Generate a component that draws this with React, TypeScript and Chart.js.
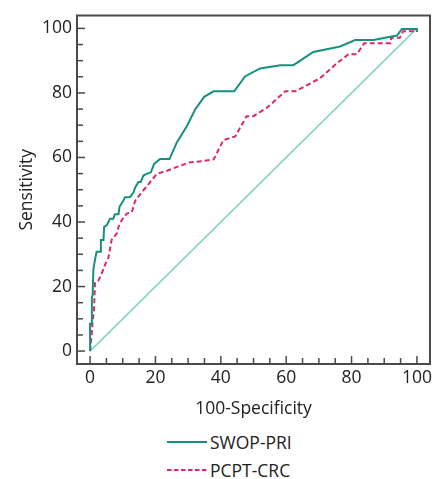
import React, { useEffect, useRef } from "react";
import { Chart, registerables } from "chart.js";

Chart.register(...registerables);

const swopX = [0, 0, 0.5, 0.55, 0.8, 1.0, 1.5, 2.0, 3.2, 3.3, 4.1, 4.3, 5.1, 6.1, 7.1, 7.6, 8.7, 9.0, 10.2, 10.7, 12.2, 13.3, 13.8, 14.8, 15.5, 16.3, 17.3, 18.6, 19.6, 21.4, 24.3, 26.5, 29.6, 32.1, 34.9, 37.8, 44.1, 47.4, 52.0, 58.2, 62.2, 68.3, 76.5, 81.1, 86.7, 93.9, 95.4, 100, 100];
const swopY = [0, 8.5, 8.5, 16.5, 17.5, 25.2, 28.3, 30.8, 30.8, 34.4, 34.4, 38.5, 39.0, 41.0, 41.0, 42.4, 42.4, 44.7, 46.7, 47.7, 47.7, 49.2, 50.7, 52.4, 52.4, 54.4, 54.9, 55.4, 58.0, 59.5, 59.5, 64.6, 69.7, 74.8, 78.8, 80.5, 80.5, 85.1, 87.6, 88.6, 88.6, 92.7, 94.4, 96.4, 96.4, 97.8, 99.8, 99.8, 98.9];

const pcptX = [0, 0.5, 0.8, 1.2, 1.5, 2.5, 3.6, 4.6, 5.6, 6.6, 8.2, 8.7, 9.7, 11.2, 12.8, 13.8, 15.8, 18.4, 20.4, 23.5, 27.5, 30.1, 34.7, 37.8, 40.8, 44.4, 47.9, 50.0, 54.1, 59.7, 62.8, 70.4, 75.5, 79.1, 81.6, 83.9, 91.9, 92.1, 94.8, 95.8, 99.1, 100];
const pcptY = [0, 5.4, 9.5, 12.5, 21.1, 21.7, 24.2, 26.8, 28.9, 34.5, 36.5, 38.5, 40.6, 42.6, 43.1, 46.6, 49.2, 52.4, 54.9, 55.9, 57.4, 58.4, 58.9, 59.4, 65.4, 66.5, 72.8, 72.8, 75.4, 80.5, 80.5, 84.6, 89.2, 92.0, 92.0, 95.4, 95.4, 97.1, 97.1, 99.1, 99.1, 99.3];

const refX = [0, 100];
const refY = [0, 100];

const tickValues = [0, 5, 10, 15, 20, 25, 30, 35, 40, 45, 50, 55, 60, 65, 70, 75, 80, 85, 90, 95, 100];

const FONT = "'Open Sans', 'Noto Sans', sans-serif";
const TEAL = "#16917f";
const MAGENTA = "#d8286f";
const DIAG = "#80d5c6";
const AXIS = "#4a4a4a";

const toPts = (xs: number[], ys: number[]) => xs.map((x, i) => ({ x, y: ys[i] }));

const frameAndTicks = {
  id: "frameAndTicks",
  afterDraw(chart: any) {
    const { ctx, chartArea } = chart;
    const xs = chart.scales.x;
    const ys = chart.scales.y;
    ctx.save();
    ctx.strokeStyle = AXIS;
    ctx.lineWidth = 1.5;
    tickValues.forEach((v) => {
      const len = v % 20 === 0 ? 8 : 6;
      const px = xs.getPixelForValue(v);
      ctx.beginPath();
      ctx.moveTo(px, chartArea.bottom);
      ctx.lineTo(px, chartArea.bottom - len);
      ctx.stroke();
      const py = ys.getPixelForValue(v);
      ctx.beginPath();
      ctx.moveTo(chartArea.left, py);
      ctx.lineTo(chartArea.left + len, py);
      ctx.stroke();
    });
    ctx.lineWidth = 2;
    ctx.strokeRect(chartArea.left, chartArea.top, chartArea.right - chartArea.left, chartArea.bottom - chartArea.top);
    ctx.restore();
  },
};

export default function App() {
  const ref = useRef<HTMLCanvasElement | null>(null);
  useEffect(() => {
    if (!ref.current) return;
    const chart = new Chart(ref.current, {
      type: "scatter",
      data: {
        datasets: [
          {
            label: "SWOP-PRI",
            data: toPts(swopX, swopY),
            showLine: true,
            borderColor: TEAL,
            backgroundColor: TEAL,
            borderWidth: 2,
            pointRadius: 0,
            order: 1,
          },
          {
            label: "PCPT-CRC",
            data: toPts(pcptX, pcptY),
            showLine: true,
            borderColor: MAGENTA,
            backgroundColor: MAGENTA,
            borderWidth: 2,
            borderDash: [5, 3],
            pointRadius: 0,
            order: 2,
          },
          {
            label: "Reference",
            data: toPts(refX, refY),
            showLine: true,
            borderColor: DIAG,
            backgroundColor: DIAG,
            borderWidth: 1.5,
            pointRadius: 0,
            order: 3,
          },
        ],
      },
      options: {
        animation: false,
        responsive: false,
        maintainAspectRatio: false,
        layout: { padding: { top: 10, right: 13, left: 0, bottom: 0 } },
        plugins: { legend: { display: false }, tooltip: { enabled: false } },
        scales: {
          x: {
            type: "linear",
            min: -4,
            max: 104,
            afterBuildTicks: (s: any) => {
              s.ticks = tickValues.map((v) => ({ value: v }));
            },
            afterFit: (s: any) => {
              s.height = 61;
            },
            grid: { display: false, drawTicks: false },
            border: { display: false },
            ticks: {
              autoSkip: false,
              maxRotation: 0,
              padding: 4,
              color: "#222",
              font: { family: FONT, size: 17.5 },
              callback: (v: any) => (Number(v) % 20 === 0 ? String(v) : ""),
            },
            title: {
              display: true,
              text: "100-Specificity",
              color: "#222",
              font: { family: FONT, size: 17.5 },
              padding: { top: 0, bottom: 5 },
            },
          },
          y: {
            type: "linear",
            min: -4,
            max: 104,
            afterBuildTicks: (s: any) => {
              s.ticks = tickValues.map((v) => ({ value: v }));
            },
            afterFit: (s: any) => {
              s.width = 77;
            },
            grid: { display: false, drawTicks: false },
            border: { display: false },
            ticks: {
              autoSkip: false,
              padding: 5,
              color: "#222",
              font: { family: FONT, size: 17.5 },
              callback: (v: any) => (Number(v) % 20 === 0 ? String(v) : ""),
            },
            title: {
              display: true,
              text: "Sensitivity",
              color: "#222",
              font: { family: FONT, size: 17.5 },
              padding: { top: 17, bottom: 0 },
            },
          },
        },
      },
      plugins: [frameAndTicks],
    });
    return () => chart.destroy();
  }, []);

  const legendRow = (label: string, color: string, dashed: boolean) => (
    <div style={{ display: "flex", alignItems: "center", height: 28 }}>
      <svg width={40} height={10} style={{ display: "block" }}>
        <line x1={0} y1={5} x2={40} y2={5} stroke={color} strokeWidth={2} strokeDasharray={dashed ? "4.5 2.5" : undefined} />
      </svg>
      <span style={{ marginLeft: 3, fontFamily: FONT, fontSize: 17.5, color: "#222", lineHeight: "28px" }}>{label}</span>
    </div>
  );

  return (
    <div style={{ position: "absolute", left: 0, top: 0, width: 443, height: 479, background: "#fff" }}>
      <canvas ref={ref} width={443} height={425} style={{ position: "absolute", left: 0, top: 0 }} />
      <div style={{ position: "absolute", left: 167, top: 428 }}>
        {legendRow("SWOP-PRI", TEAL, false)}
        {legendRow("PCPT-CRC", MAGENTA, true)}
      </div>
    </div>
  );
}
